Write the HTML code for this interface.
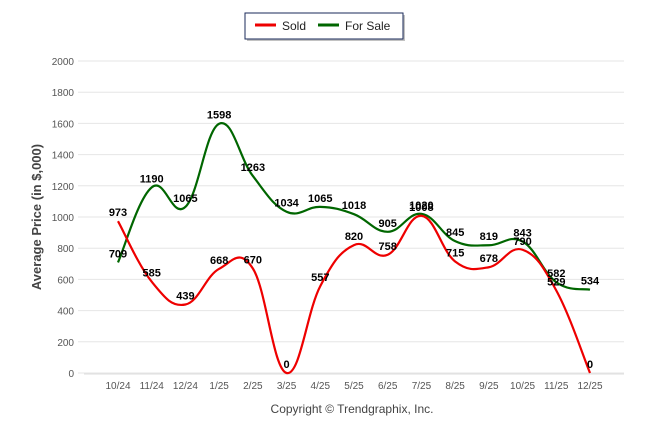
<!DOCTYPE html>
<html><head><meta charset="utf-8"><style>
body{margin:0;background:#fff;font-family:"Liberation Sans",sans-serif}
</style></head><body>
<svg width="646" height="434" xmlns="http://www.w3.org/2000/svg">
<g>
<rect x="247" y="15" width="158" height="26" fill="#999" opacity="0.6"/>
<rect x="245" y="13" width="158" height="26" fill="#fff" stroke="#1a2a5a" stroke-width="1"/>
<line x1="255" y1="25" x2="276" y2="25" stroke="#e00" stroke-width="3"/>
<text x="282" y="30" font-size="12" fill="#222">Sold</text>
<line x1="318" y1="25" x2="339" y2="25" stroke="#060" stroke-width="3"/>
<text x="345" y="30" font-size="12" fill="#222">For Sale</text>
</g>
<text transform="translate(41,217) rotate(-90)" text-anchor="middle" font-size="13" font-weight="bold" fill="#444">Average Price (in $,000)</text>
<text x="352" y="413" text-anchor="middle" font-size="12" fill="#444">Copyright © Trendgraphix, Inc.</text>
<g id="grid"></g><g id="series"></g><g id="labels"></g>
</svg>
<script>
const categories=["10/24","11/24","12/24","1/25","2/25","3/25","4/25","5/25","6/25","7/25","8/25","9/25","10/25","11/25","12/25"];
const soldValues=[973,585,439,668,670,0,557,820,758,1008,715,678,790,529,0];
const forSaleValues=[709,1190,1065,1598,1263,1034,1065,1018,905,1020,845,819,843,582,534];
const yTicks=[0,200,400,600,800,1000,1200,1400,1600,1800,2000];
const NS="http://www.w3.org/2000/svg";
const x0=118,dx=(590-118)/14,yBase=373,yTop=61;
const xs=i=>x0+i*dx, ys=v=>yBase-(v/2000)*(yBase-yTop);
function mk(t,a,p){const e=document.createElementNS(NS,t);for(const k in a)e.setAttribute(k,a[k]);p.appendChild(e);return e;}
const grid=document.getElementById('grid');
yTicks.forEach(v=>{
 const l=mk('line',{x1:78,x2:624,y1:ys(v),y2:ys(v),stroke:'#e6e6e6'},grid);
 
 
 const t=mk('text',{x:74,y:ys(v)+4,'text-anchor':'end','font-size':'10',fill:'#555'},grid);
 t.textContent=v;
 
 
});
const ax=mk('line',{x1:84,x2:624,y1:yBase+1,y2:yBase+1,stroke:'#ddd'},grid);


categories.forEach((c,i)=>{
 const t=mk('text',{x:xs(i),y:389,'text-anchor':'middle','font-size':'10',fill:'#555'},grid);
 t.textContent=c;
 
 
});
function path(vals){
 const p=vals.map((v,i)=>[xs(i),ys(v)]);let d='M'+p[0][0]+','+p[0][1];
 for(let i=0;i<p.length-1;i++){const a=p[i-1]||p[i],b=p[i],c=p[i+1],e=p[i+2]||c,k=0.2;
  d+=` C${b[0]+(c[0]-a[0])*k},${b[1]+(c[1]-a[1])*k} ${c[0]-(e[0]-b[0])*k},${c[1]-(e[1]-b[1])*k} ${c[0]},${c[1]}`;}
 return d;}
const s=document.getElementById('series'),lb=document.getElementById('labels');
[[forSaleValues,'#060','for-sale'],[soldValues,'#e00','sold']].forEach(([vals,col,n])=>{
 const p=mk('path',{d:path(vals),fill:'none',stroke:col,'stroke-width':2.2},s);
 
 
 vals.forEach((v,i)=>{
  const t=mk('text',{x:xs(i),y:ys(v)-5,'text-anchor':'middle','font-size':'11','font-weight':'bold',fill:'#000'},lb);
  t.textContent=v;
  
  
 });
});
</script>
</body></html>
